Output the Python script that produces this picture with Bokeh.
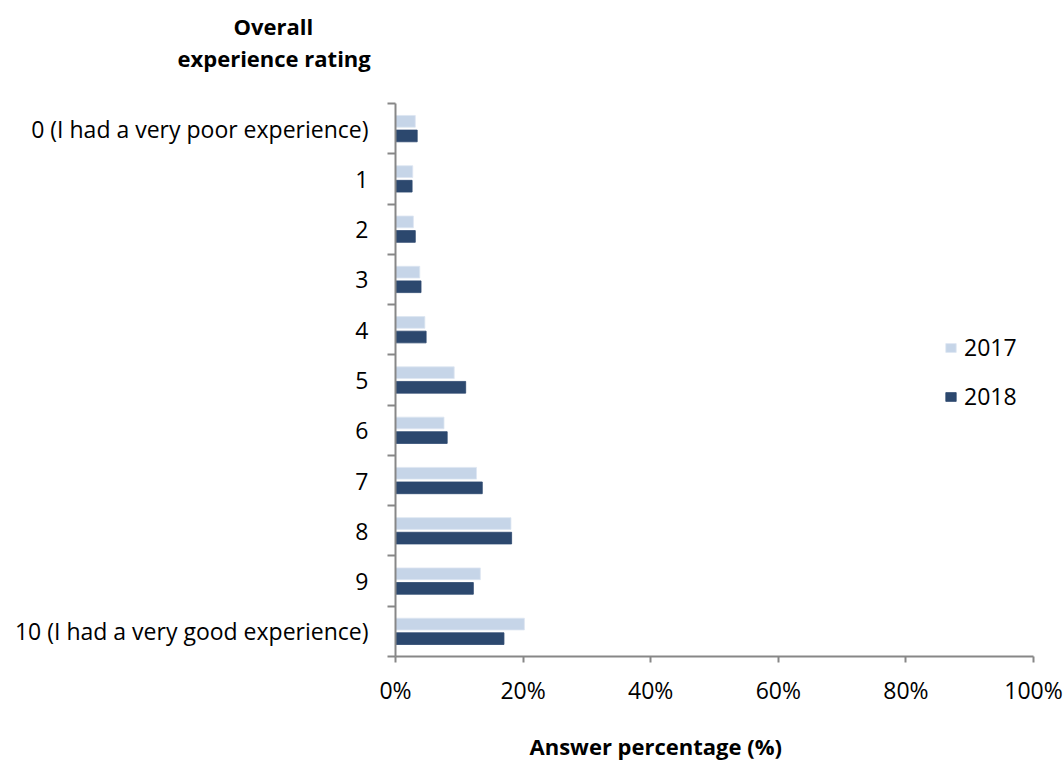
from bokeh.plotting import figure
from bokeh.models import (Range1d, FixedTicker, PrintfTickFormatter, Legend, LegendItem, Title)
from bokeh.embed import file_html
from bokeh.resources import INLINE

categories = ["0 (I had a very poor experience)", "1", "2", "3", "4", "5", "6", "7", "8", "9",
              "10 (I had a very good experience)"]
values_2017 = [3.1, 2.7, 2.8, 3.8, 4.6, 9.2, 7.6, 12.7, 18.1, 13.3, 20.2]
values_2018 = [3.4, 2.6, 3.1, 4.0, 4.8, 11.0, 8.1, 13.6, 18.2, 12.2, 17.0]
series_names = ["2017", "2018"]
x_ticks = [0, 20, 40, 60, 80, 100]
y_title_lines = ["Overall", "experience rating"]
x_title = "Answer percentage (%)"

FONT = "Open Sans"
n = len(categories)
centers = [n - 1 - i for i in range(n)]
boundaries = [c + 0.5 for c in range(-1, n)]

p = figure(width=1064, height=760, output_backend="svg", toolbar_location=None,
           x_range=Range1d(0, 100), y_range=Range1d(-0.5, n - 0.5),
           min_border_left=395, min_border_right=31, min_border_top=103, min_border_bottom=103)
p.outline_line_color = None
p.xgrid.grid_line_color = None
p.ygrid.grid_line_color = None

off = 0.145
h = 0.233
r17 = p.hbar(y=[c + off for c in centers], right=values_2017, left=0, height=h,
             fill_color="#c6d5e8", line_color="#dde6f1", line_width=0.8)
r18 = p.hbar(y=[c - off for c in centers], right=values_2018, left=0, height=h,
             fill_color="#2c486e", line_color="#2c486e", line_width=0.8)

axis_color = "#878787"
xa = p.xaxis[0]
xa.ticker = FixedTicker(ticks=x_ticks, minor_ticks=[])
xa.formatter = PrintfTickFormatter(format="%d%%")
xa.axis_line_color = axis_color
xa.axis_line_width = 2
xa.major_tick_line_color = axis_color
xa.major_tick_line_width = 2
xa.major_tick_out = 6
xa.major_tick_in = 0
xa.minor_tick_line_color = None
xa.major_label_text_font = FONT
xa.major_label_text_font_size = "23px"
xa.major_label_text_color = "black"
xa.major_label_standoff = 11

ya = p.yaxis[0]
ya.ticker = FixedTicker(ticks=centers, minor_ticks=boundaries)
ya.major_label_overrides = {c: lab for c, lab in zip(centers, categories)}
ya.axis_line_color = axis_color
ya.axis_line_width = 2
ya.major_tick_line_color = None
ya.major_tick_out = 0
ya.major_tick_in = 0
ya.minor_tick_line_color = axis_color
ya.minor_tick_line_width = 2
ya.minor_tick_out = 8
ya.minor_tick_in = 0
ya.major_label_text_font = FONT
ya.major_label_text_font_size = "23px"
ya.major_label_text_color = "black"
ya.major_label_standoff = 19

legend = Legend(items=[LegendItem(label=series_names[0], renderers=[r17]),
                       LegendItem(label=series_names[1], renderers=[r18])],
                location=(549, 244), orientation="vertical",
                border_line_color=None, background_fill_alpha=0,
                padding=0, margin=0, spacing=17, glyph_width=13, glyph_height=11,
                label_standoff=7, label_text_font=FONT, label_text_font_size="23px",
                label_text_color="black")
p.add_layout(legend)

title_kw = dict(text_font=FONT, text_font_style="bold", text_font_size="22px",
                text_color="black", align="left", vertical_align="bottom", standoff=0)

# above: spacer (closest to the frame), then the two heading lines
p.add_layout(Title(text="\u00a0", text_font_size="1px", standoff=28), "above")
p.add_layout(Title(text=y_title_lines[1], offset=-218, **title_kw), "above")
p.add_layout(Title(text=y_title_lines[0], offset=-162, **title_kw), "above")

# below: spacer after the axis, then the value-axis title
p.add_layout(Title(text="\u00a0", text_font_size="1px", standoff=17), "below")
p.add_layout(Title(text=x_title, offset=134, **title_kw), "below")

open("out.html", "w").write(file_html(p, INLINE))
